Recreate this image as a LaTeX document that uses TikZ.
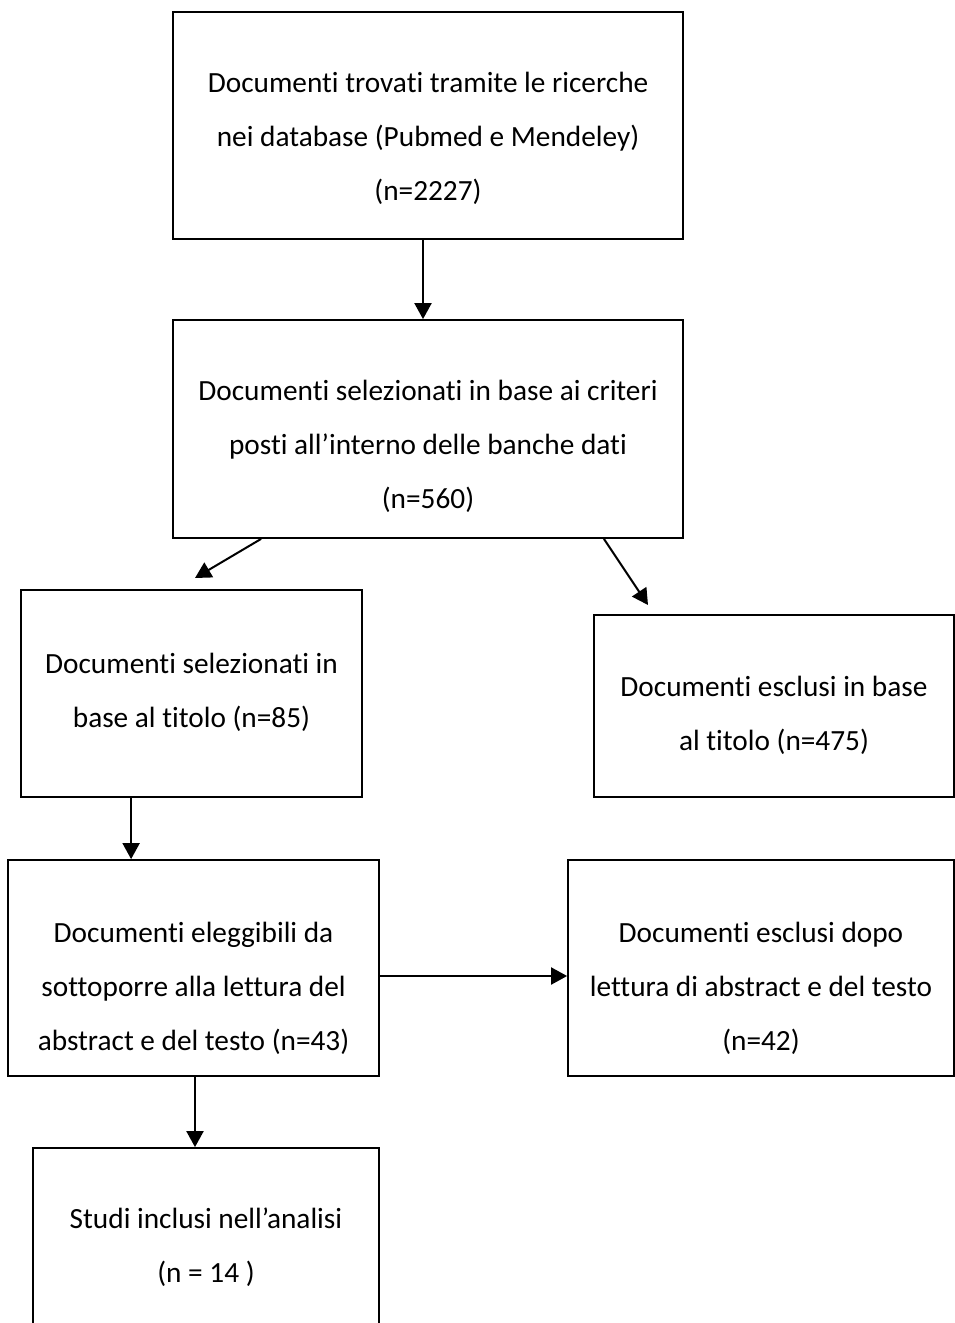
\documentclass[tikz,border=0pt]{standalone}
\usepackage{fontspec}
\setmainfont{Carlito}[Ligatures={NoCommon,NoRare,NoContextual}]
\usetikzlibrary{arrows.meta}
\begin{document}
\begin{tikzpicture}[x=1pt,y=-1pt,
  box/.style={draw=black,line width=1.8pt,rectangle,inner sep=0pt},
  txt/.style={align=center,inner sep=0pt,anchor=base,
    font=\fontsize{29.3}{54}\selectfont},
  arr/.style={draw=black,line width=2pt,
    -{Triangle[length=16pt,width=17pt]}}]
% page frame
\clip (0,0) rectangle (955,1323);
\path[use as bounding box] (0,0) rectangle (955,1323);

% boxes
\node[box,minimum width=510pt,minimum height=227pt] (b1) at (428,125.5) {};
\node[box,minimum width=510pt,minimum height=218pt] (b2) at (428,429) {};
\node[box,minimum width=341pt,minimum height=207pt] (b3) at (191.5,693.5) {};
\node[box,minimum width=360pt,minimum height=182pt] (b4) at (774,706) {};
\node[box,minimum width=371pt,minimum height=216pt] (b5) at (193.5,968) {};
\node[box,minimum width=386pt,minimum height=216pt] (b6) at (761,968) {};
\node[box,minimum width=346pt,minimum height=252pt] (b7) at (206,1274) {};

% labels (anchored at the baseline of their last line)
\node[txt] (l1) at (428,200) {Documenti trovati tramite le ricerche\\nei database (Pubmed e Mendeley)\\(n=2227)};
\node[txt] (l2) at (428,508) {Documenti selezionati in base ai criteri\\posti all’interno delle banche dati\\(n=560)};
\node[txt] (l3) at (191.5,727) {Documenti selezionati in\\base al titolo (n=85)};
\node[txt] (l4) at (774,750) {Documenti esclusi in base\\al titolo (n=475)};
\node[txt] (l5) at (193.5,1050) {Documenti eleggibili da\\sottoporre alla lettura del\\abstract e del testo (n=43)};
\node[txt] (l6) at (761,1050) {Documenti esclusi dopo\\lettura di abstract e del testo\\(n=42)};
\node[txt] (l7) at (206,1282) {Studi inclusi nell’analisi\\(n = 14 )};

% free arrow ends
\coordinate (t3) at (195,578);
\coordinate (t4) at (648,605);

% connectors
\draw[arr] ([xshift=-5pt]b1.south) -- ([xshift=-5pt]b2.north);
\draw[arr] ([xshift=89pt]b2.south west) -- (t3);
\draw[arr] ([xshift=-80pt]b2.south east) -- (t4);
\draw[arr] ([xshift=111pt]b3.south west) -- ([xshift=124pt]b5.north west);
\draw[arr] (b5.east |- 0,976) -- (b6.west |- 0,976);
\draw[arr] ([xshift=1.5pt]b5.south) -- ([xshift=-11pt]b7.north);
\end{tikzpicture}
\end{document}
